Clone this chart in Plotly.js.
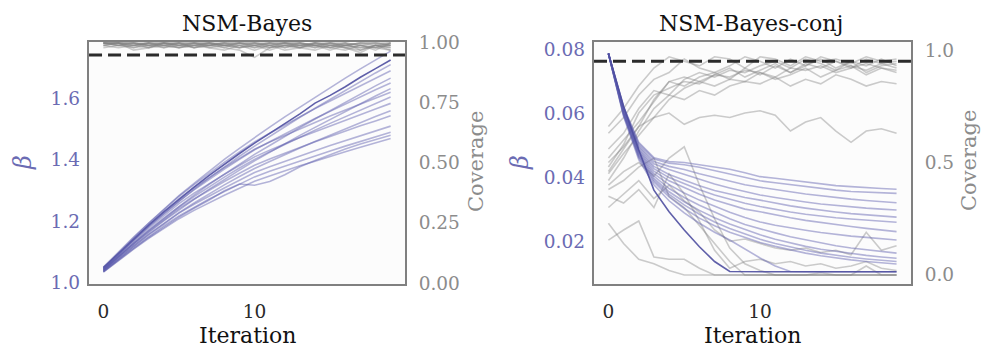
<!DOCTYPE html>
<html>
<head>
<meta charset="utf-8">
<script src="https://cdn.plot.ly/plotly-3.0.1.min.js"></script>
<style>
    html, body { margin: 0; padding: 0; background: #fff; }
    #chart { width: 997px; height: 361px; }
</style>
</head>
<body>
<div id="chart"></div>
<script>
// iteration index shared by both panels
var iterations = [0, 1, 2, 3, 4, 5, 6, 7, 8, 9, 10, 11, 12, 13, 14, 15, 16, 17, 18, 19];

// NSM-Bayes: beta per run
var betaBayes = [
    [1.052, 1.101, 1.149, 1.195, 1.240, 1.284, 1.324, 1.364, 1.402, 1.438, 1.473, 1.507, 1.540, 1.572, 1.604, 1.635, 1.666, 1.696, 1.725, 1.754],
    [1.050, 1.097, 1.143, 1.188, 1.231, 1.273, 1.312, 1.350, 1.386, 1.421, 1.455, 1.487, 1.519, 1.550, 1.585, 1.610, 1.638, 1.669, 1.697, 1.725],
    [1.048, 1.094, 1.139, 1.183, 1.225, 1.266, 1.305, 1.342, 1.378, 1.412, 1.445, 1.477, 1.508, 1.539, 1.568, 1.597, 1.627, 1.655, 1.683, 1.710],
    [1.047, 1.098, 1.147, 1.194, 1.239, 1.282, 1.320, 1.357, 1.392, 1.426, 1.459, 1.487, 1.514, 1.541, 1.567, 1.592, 1.617, 1.642, 1.666, 1.690],
    [1.045, 1.088, 1.131, 1.172, 1.211, 1.250, 1.286, 1.321, 1.354, 1.387, 1.418, 1.447, 1.477, 1.505, 1.533, 1.560, 1.588, 1.614, 1.641, 1.666],
    [1.046, 1.094, 1.140, 1.184, 1.226, 1.266, 1.303, 1.337, 1.370, 1.402, 1.433, 1.459, 1.485, 1.510, 1.535, 1.558, 1.582, 1.605, 1.628, 1.650],
    [1.044, 1.085, 1.125, 1.164, 1.202, 1.238, 1.272, 1.305, 1.337, 1.367, 1.397, 1.425, 1.453, 1.480, 1.506, 1.532, 1.558, 1.583, 1.608, 1.632],
    [1.043, 1.094, 1.142, 1.188, 1.232, 1.274, 1.310, 1.343, 1.375, 1.405, 1.435, 1.458, 1.480, 1.502, 1.522, 1.543, 1.562, 1.582, 1.601, 1.620],
    [1.042, 1.086, 1.129, 1.170, 1.210, 1.247, 1.281, 1.313, 1.344, 1.374, 1.402, 1.427, 1.451, 1.474, 1.497, 1.519, 1.541, 1.563, 1.584, 1.605],
    [1.041, 1.089, 1.134, 1.178, 1.219, 1.258, 1.292, 1.323, 1.353, 1.382, 1.410, 1.432, 1.453, 1.473, 1.492, 1.511, 1.530, 1.548, 1.566, 1.584],
    [1.040, 1.084, 1.127, 1.167, 1.205, 1.242, 1.273, 1.302, 1.330, 1.357, 1.383, 1.403, 1.422, 1.441, 1.459, 1.476, 1.494, 1.511, 1.527, 1.544],
    [1.038, 1.080, 1.119, 1.157, 1.193, 1.227, 1.256, 1.283, 1.309, 1.334, 1.359, 1.378, 1.396, 1.413, 1.430, 1.447, 1.463, 1.479, 1.494, 1.510],
    [1.037, 1.077, 1.115, 1.151, 1.186, 1.218, 1.246, 1.273, 1.297, 1.321, 1.345, 1.363, 1.380, 1.397, 1.413, 1.429, 1.445, 1.460, 1.475, 1.490],
    [1.036, 1.075, 1.112, 1.148, 1.182, 1.214, 1.243, 1.270, 1.300, 1.322, 1.318, 1.330, 1.352, 1.378, 1.398, 1.418, 1.436, 1.452, 1.466, 1.480],
    [1.035, 1.073, 1.110, 1.145, 1.178, 1.209, 1.236, 1.261, 1.285, 1.308, 1.331, 1.348, 1.365, 1.381, 1.396, 1.412, 1.427, 1.441, 1.456, 1.470],
    [1.039, 1.080, 1.120, 1.158, 1.194, 1.229, 1.260, 1.290, 1.319, 1.346, 1.372, 1.395, 1.418, 1.439, 1.460, 1.481, 1.501, 1.521, 1.541, 1.560]
];

// NSM-Bayes: coverage per run
var coverageBayes = [
    [1.00, 1.00, 1.00, 0.99, 1.00, 1.00, 0.99, 1.00, 1.00, 0.99, 1.00, 1.00, 1.00, 0.99, 1.00, 1.00, 0.99, 1.00, 1.00, 1.00],
    [1.00, 0.99, 0.98, 0.99, 1.00, 0.99, 1.00, 0.98, 0.99, 1.00, 0.99, 0.98, 0.99, 1.00, 0.99, 0.98, 0.99, 1.00, 0.99, 0.98],
    [0.99, 1.00, 0.97, 0.98, 0.99, 0.98, 0.99, 1.00, 0.98, 0.97, 0.94, 0.98, 0.99, 0.98, 0.97, 0.99, 0.98, 0.97, 0.99, 0.97],
    [1.00, 1.00, 0.99, 0.98, 1.00, 1.00, 0.98, 0.99, 1.00, 1.00, 0.99, 1.00, 0.98, 0.99, 0.99, 1.00, 0.98, 0.96, 0.99, 0.98],
    [1.00, 0.99, 1.00, 1.00, 0.99, 0.98, 1.00, 1.00, 0.99, 0.98, 1.00, 0.99, 1.00, 0.98, 1.00, 0.99, 1.00, 0.99, 0.98, 1.00],
    [0.99, 0.98, 0.99, 1.00, 0.98, 0.99, 0.99, 0.98, 0.97, 0.99, 0.98, 0.99, 0.97, 0.98, 0.99, 0.98, 0.97, 0.99, 0.98, 0.99],
    [1.00, 1.00, 0.98, 1.00, 1.00, 0.99, 1.00, 0.99, 1.00, 1.00, 0.98, 1.00, 1.00, 1.00, 0.98, 1.00, 1.00, 0.99, 0.97, 1.00],
    [0.98, 0.99, 1.00, 0.99, 0.99, 1.00, 0.98, 0.99, 0.99, 0.98, 0.99, 0.97, 0.99, 0.99, 0.98, 0.99, 0.99, 0.98, 0.99, 0.99],
    [1.00, 1.00, 0.99, 1.00, 0.99, 1.00, 1.00, 1.00, 0.99, 1.00, 1.00, 0.99, 1.00, 1.00, 0.99, 1.00, 0.99, 1.00, 1.00, 0.99],
    [0.99, 1.00, 1.00, 0.98, 1.00, 0.99, 0.98, 1.00, 0.99, 0.99, 0.97, 0.99, 0.98, 1.00, 0.99, 0.97, 0.99, 0.98, 0.98, 0.97],
    [1.00, 0.99, 0.99, 1.00, 1.00, 0.98, 0.99, 0.99, 1.00, 0.98, 0.99, 1.00, 0.99, 0.98, 1.00, 0.99, 0.98, 0.99, 1.00, 0.99],
    [1.00, 1.00, 1.00, 0.99, 0.98, 1.00, 1.00, 0.99, 0.98, 1.00, 1.00, 0.98, 1.00, 0.99, 1.00, 0.98, 1.00, 0.97, 0.99, 1.00]
];

// NSM-Bayes-conj: beta per run
var betaConj = [
    [0.0786, 0.0620, 0.0510, 0.0462, 0.0450, 0.0447, 0.0440, 0.0434, 0.0426, 0.0415, 0.0403, 0.0398, 0.0392, 0.0385, 0.0380, 0.0375, 0.0372, 0.0368, 0.0366, 0.0364],
    [0.0786, 0.0618, 0.0505, 0.0458, 0.0445, 0.0440, 0.0432, 0.0422, 0.0412, 0.0400, 0.0390, 0.0384, 0.0378, 0.0372, 0.0366, 0.0361, 0.0357, 0.0355, 0.0353, 0.0351],
    [0.0786, 0.0615, 0.0500, 0.0450, 0.0435, 0.0425, 0.0412, 0.0400, 0.0388, 0.0378, 0.0370, 0.0362, 0.0356, 0.0349, 0.0343, 0.0338, 0.0333, 0.0329, 0.0325, 0.0322],
    [0.0786, 0.0612, 0.0495, 0.0443, 0.0425, 0.0410, 0.0395, 0.0380, 0.0368, 0.0356, 0.0346, 0.0338, 0.0330, 0.0324, 0.0318, 0.0313, 0.0308, 0.0305, 0.0302, 0.0299],
    [0.0786, 0.0610, 0.0490, 0.0435, 0.0410, 0.0392, 0.0375, 0.0360, 0.0348, 0.0338, 0.0330, 0.0320, 0.0312, 0.0305, 0.0298, 0.0293, 0.0288, 0.0284, 0.0280, 0.0277],
    [0.0786, 0.0608, 0.0486, 0.0428, 0.0400, 0.0380, 0.0362, 0.0346, 0.0332, 0.0320, 0.0310, 0.0301, 0.0293, 0.0286, 0.0280, 0.0275, 0.0271, 0.0267, 0.0264, 0.0261],
    [0.0786, 0.0605, 0.0482, 0.0420, 0.0390, 0.0368, 0.0348, 0.0330, 0.0315, 0.0302, 0.0294, 0.0284, 0.0275, 0.0267, 0.0260, 0.0254, 0.0248, 0.0242, 0.0237, 0.0232],
    [0.0786, 0.0602, 0.0478, 0.0412, 0.0378, 0.0352, 0.0330, 0.0310, 0.0292, 0.0276, 0.0262, 0.0252, 0.0243, 0.0236, 0.0229, 0.0223, 0.0218, 0.0214, 0.0210, 0.0206],
    [0.0786, 0.0600, 0.0474, 0.0405, 0.0366, 0.0338, 0.0314, 0.0292, 0.0272, 0.0254, 0.0240, 0.0228, 0.0216, 0.0206, 0.0196, 0.0188, 0.0181, 0.0175, 0.0170, 0.0165],
    [0.0786, 0.0598, 0.0470, 0.0398, 0.0356, 0.0325, 0.0298, 0.0275, 0.0256, 0.0238, 0.0222, 0.0208, 0.0196, 0.0186, 0.0177, 0.0170, 0.0164, 0.0158, 0.0153, 0.0149],
    [0.0786, 0.0596, 0.0466, 0.0392, 0.0348, 0.0315, 0.0286, 0.0262, 0.0242, 0.0224, 0.0208, 0.0195, 0.0184, 0.0174, 0.0165, 0.0158, 0.0152, 0.0147, 0.0143, 0.0139],
    [0.0786, 0.0594, 0.0462, 0.0386, 0.0340, 0.0304, 0.0274, 0.0250, 0.0230, 0.0213, 0.0198, 0.0186, 0.0175, 0.0165, 0.0157, 0.0150, 0.0144, 0.0139, 0.0135, 0.0131],
    [0.0786, 0.0590, 0.0456, 0.0378, 0.0328, 0.0290, 0.0258, 0.0230, 0.0206, 0.0178, 0.0150, 0.0125, 0.0108, 0.0107, 0.0107, 0.0107, 0.0107, 0.0107, 0.0107, 0.0107],
    [0.0786, 0.0622, 0.0486, 0.0361, 0.0294, 0.0237, 0.0185, 0.0139, 0.0108, 0.0107, 0.0107, 0.0107, 0.0107, 0.0107, 0.0107, 0.0107, 0.0107, 0.0107, 0.0107, 0.0107]
];

// NSM-Bayes-conj: coverage per run
var coverageConj = [
    [0.66, 0.74, 0.84, 0.92, 0.97, 0.95, 0.93, 0.97, 0.96, 0.92, 0.97, 0.96, 0.93, 0.97, 0.95, 0.96, 0.94, 0.97, 0.95, 0.96],
    [0.63, 0.70, 0.80, 0.87, 0.90, 0.96, 0.92, 0.90, 0.93, 0.97, 0.95, 0.92, 0.96, 0.93, 0.97, 0.95, 0.92, 0.96, 0.94, 0.95],
    [0.56, 0.63, 0.74, 0.82, 0.80, 0.87, 0.90, 0.88, 0.91, 0.90, 0.93, 0.95, 0.92, 0.96, 0.94, 0.91, 0.95, 0.93, 0.96, 0.93],
    [0.52, 0.60, 0.68, 0.77, 0.86, 0.84, 0.88, 0.90, 0.87, 0.92, 0.89, 0.93, 0.90, 0.94, 0.92, 0.95, 0.93, 0.91, 0.94, 0.92],
    [0.48, 0.58, 0.72, 0.80, 0.83, 0.86, 0.85, 0.89, 0.92, 0.88, 0.91, 0.94, 0.90, 0.93, 0.96, 0.92, 0.95, 0.90, 0.93, 0.94],
    [0.46, 0.56, 0.66, 0.78, 0.86, 0.88, 0.86, 0.89, 0.88, 0.91, 0.90, 0.88, 0.92, 0.91, 0.93, 0.90, 0.92, 0.94, 0.92, 0.91],
    [0.45, 0.54, 0.62, 0.70, 0.78, 0.83, 0.86, 0.84, 0.87, 0.86, 0.90, 0.87, 0.89, 0.92, 0.88, 0.91, 0.93, 0.89, 0.92, 0.90],
    [0.42, 0.52, 0.64, 0.74, 0.80, 0.78, 0.82, 0.80, 0.84, 0.86, 0.85, 0.88, 0.84, 0.87, 0.85, 0.89, 0.87, 0.84, 0.86, 0.85],
    [0.50, 0.57, 0.66, 0.70, 0.72, 0.67, 0.70, 0.71, 0.70, 0.72, 0.73, 0.71, 0.64, 0.68, 0.70, 0.64, 0.59, 0.64, 0.65, 0.63],
    [0.40, 0.46, 0.50, 0.44, 0.52, 0.57, 0.40, 0.25, 0.12, 0.05, 0.02, 0.00, 0.00, 0.00, 0.00, 0.00, 0.00, 0.00, 0.00, 0.00],
    [0.23, 0.14, 0.07, 0.05, 0.02, 0.00, 0.00, 0.00, 0.00, 0.00, 0.00, 0.00, 0.00, 0.00, 0.00, 0.00, 0.00, 0.00, 0.00, 0.00],
    [0.155, 0.20, 0.24, 0.08, 0.07, 0.07, 0.03, 0.00, 0.00, 0.00, 0.00, 0.00, 0.00, 0.00, 0.01, 0.00, 0.00, 0.04, 0.00, 0.00],
    [0.35, 0.32, 0.38, 0.30, 0.45, 0.36, 0.24, 0.11, 0.03, 0.06, 0.07, 0.05, 0.06, 0.04, 0.05, 0.03, 0.04, 0.06, 0.03, 0.02],
    [0.30, 0.36, 0.42, 0.34, 0.40, 0.33, 0.28, 0.20, 0.15, 0.16, 0.14, 0.12, 0.11, 0.12, 0.10, 0.11, 0.09, 0.19, 0.11, 0.13],
    [0.38, 0.42, 0.48, 0.52, 0.35, 0.30, 0.22, 0.14, 0.06, 0.00, 0.00, 0.00, 0.00, 0.00, 0.00, 0.00, 0.00, 0.00, 0.00, 0.00]
];

// which run is drawn darker in each panel
var strongBayes = 1;
var strongConj = 13;

var targetCoverage = 0.95;

var font = 'DejaVu Serif, serif';
var purple = '#6b6bb3';
var grayText = '#8c8c8c';
var frameColor = '#808080';

function lineTraces(series, xa, ya, color, strongIndex, strongColor) {
    var traces = [];
    for (var i = 0; i < series.length; i++) {
        traces.push({
            x: iterations,
            y: series[i],
            xaxis: xa,
            yaxis: ya,
            type: 'scatter',
            mode: 'lines',
            hoverinfo: 'skip',
            line: {color: i === strongIndex ? strongColor : color, width: 1.6}
        });
    }
    return traces;
}

var grayLine = 'rgba(128,128,128,0.4)';
var purpleLine = 'rgba(90,90,172,0.45)';
var purpleStrong = 'rgba(78,78,160,0.9)';

var traces = []
    .concat(lineTraces(coverageBayes, 'x', 'y', grayLine, -1, grayLine))
    .concat(lineTraces(betaBayes, 'x', 'y2', purpleLine, strongBayes, purpleStrong))
    .concat(lineTraces(coverageConj, 'x2', 'y3', grayLine, -1, grayLine))
    .concat(lineTraces(betaConj, 'x2', 'y4', purpleLine, strongConj, purpleStrong));

function xAxis(domain, anchor) {
    return {
        domain: domain,
        anchor: anchor,
        range: [-0.95, 19.95],
        tickvals: [0, 10],
        ticks: '',
        ticklabelstandoff: 10,
        showgrid: false,
        zeroline: false,
        showline: true,
        mirror: true,
        linecolor: frameColor,
        linewidth: 2,
        tickfont: {family: font, size: 18.5, color: '#2a2a2a'}
    };
}

function coverageAxis(anchor, range, vals, text) {
    return {
        domain: [0.2133, 0.8837],
        anchor: anchor,
        side: 'right',
        range: range,
        tickvals: vals,
        ticktext: text,
        ticks: '',
        ticklabelstandoff: 8,
        showgrid: false,
        zeroline: false,
        showline: true,
        mirror: true,
        linecolor: frameColor,
        linewidth: 2,
        tickfont: {family: font, size: 18.5, color: grayText}
    };
}

function betaAxis(over, anchor, range, vals, text) {
    return {
        overlaying: over,
        anchor: anchor,
        side: 'left',
        range: range,
        tickvals: vals,
        ticktext: text,
        ticks: '',
        ticklabelstandoff: 8,
        showgrid: false,
        zeroline: false,
        showline: false,
        tickfont: {family: font, size: 18.5, color: purple}
    };
}

function label(text, px, py, size, color, angle) {
    return {
        text: text,
        xref: 'paper', yref: 'paper',
        x: px / 997, y: 1 - py / 361,
        xanchor: 'center', yanchor: 'middle',
        showarrow: false,
        textangle: angle || 0,
        font: {family: font, size: size, color: color}
    };
}

function targetLine(xref, yref) {
    return {
        type: 'line', layer: 'above',
        xref: xref, yref: yref,
        x0: 0, x1: 1, y0: targetCoverage, y1: targetCoverage,
        line: {color: '#2b2b2b', width: 3, dash: '13px,6px'}
    };
}

var layout = {
    width: 997,
    height: 361,
    margin: {l: 0, r: 0, t: 0, b: 0},
    paper_bgcolor: '#ffffff',
    plot_bgcolor: '#fcfcfc',
    showlegend: false,
    xaxis: xAxis([0.0893, 0.4062], 'y'),
    yaxis: coverageAxis('x', [-0.004, 1.004], [0, 0.25, 0.5, 0.75, 1], ['0.00', '0.25', '0.50', '0.75', '1.00']),
    yaxis2: betaAxis('y', 'x', [0.9967, 1.7836], [1.0, 1.2, 1.4, 1.6], ['1.0', '1.2', '1.4', '1.6']),
    xaxis2: xAxis([0.5958, 0.9137], 'y3'),
    yaxis3: coverageAxis('x2', [-0.04, 1.036], [0, 0.5, 1], ['0.0', '0.5', '1.0']),
    yaxis4: betaAxis('y3', 'x2', [0.0069, 0.0822], [0.02, 0.04, 0.06, 0.08], ['0.02', '0.04', '0.06', '0.08']),
    shapes: [targetLine('x domain', 'y'), targetLine('x2 domain', 'y3')],
    annotations: [
        label('NSM-Bayes', 247, 23, 22, '#111111'),
        label('NSM-Bayes-conj', 751, 23, 22, '#111111'),
        label('Iteration', 247, 335, 22, '#111111'),
        label('Iteration', 752, 335, 22, '#111111'),
        label('<i>β</i>', 23, 163, 24, purple, -90),
        label('<i>β</i>', 520, 163, 24, purple, -90),
        label('Coverage', 476, 162, 21, grayText, -90),
        label('Coverage', 969, 161, 21, grayText, -90)
    ]
};

Plotly.newPlot('chart', traces, layout, {staticPlot: true});
</script>
</body>
</html>
